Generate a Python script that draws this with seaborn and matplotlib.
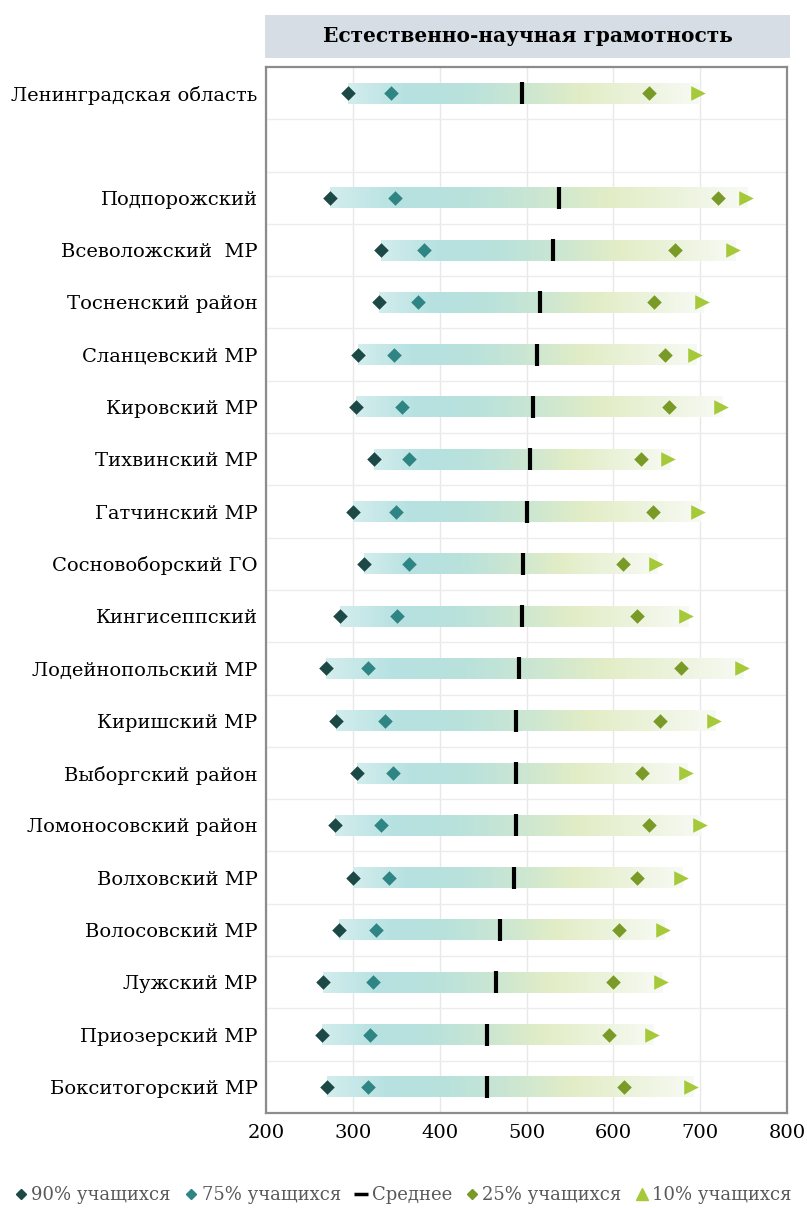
import numpy as np
import pandas as pd
import matplotlib.pyplot as plt
from matplotlib.colors import LinearSegmentedColormap
from matplotlib.lines import Line2D
import seaborn as sns

# Data
regions = ['Ленинградская область', '',
           'Подпорожский', 'Всеволожский  МР', 'Тосненский район', 'Сланцевский МР',
           'Кировский МР', 'Тихвинский МР', 'Гатчинский МР', 'Сосновоборский ГО',
           'Кингисеппский', 'Лодейнопольский МР', 'Киришский МР', 'Выборгский район',
           'Ломоносовский район', 'Волховский МР', 'Волосовский МР', 'Лужский МР',
           'Приозерский МР', 'Бокситогорский МР']
p90 = [295, None, 274, 332, 330, 306, 304, 324, 300, 313, 285, 269, 281, 305, 280, 300, 284, 266, 265, 270]
p75 = [344, None, 348, 382, 375, 347, 357, 365, 350, 365, 351, 318, 337, 346, 333, 342, 327, 323, 320, 317]
mean = [495, None, 538, 531, 516, 512, 508, 504, 501, 496, 495, 491, 488, 488, 488, 486, 470, 465, 455, 455]
p25 = [641, None, 721, 671, 647, 659, 664, 632, 646, 611, 627, 678, 654, 633, 641, 627, 607, 600, 595, 612]
p10 = [697, None, 753, 738, 702, 694, 724, 663, 698, 649, 684, 748, 716, 684, 700, 678, 657, 655, 645, 690]
title = 'Естественно-научная грамотность'

df = pd.DataFrame({'region': regions, 'p90': p90, 'p75': p75, 'mean': mean,
                   'p25': p25, 'p10': p10}).astype({'p90': float, 'p75': float, 'mean': float,
                                                     'p25': float, 'p10': float})
df['pos'] = np.arange(len(df))

sns.set_style('white')
plt.rcParams['font.family'] = ['DejaVu Serif', 'DejaVu Sans']

fig = plt.figure(figsize=(8.07, 12.08), dpi=100)
ax = fig.add_axes([266 / 807, 1 - 1113 / 1208, 521 / 807, (1113 - 67) / 1208])

# gradient bars from 90% to 10%
grad = LinearSegmentedColormap.from_list('g', ['#d3eded', '#b6e1e1', '#b9e2dc', '#cbe6d2',
                                               '#e2edc6', '#ecf3dc', '#f7faf4'])
gimg = np.linspace(0, 1, 256).reshape(1, -1)
bh = 0.2
for _, r in df.dropna().iterrows():
    ax.imshow(gimg, cmap=grad, aspect='auto', interpolation='bilinear',
              extent=[r['p90'], r['p10'] + 2, r['pos'] + bh, r['pos'] - bh], zorder=2)

d = df.dropna()
sns.scatterplot(x=d['p90'], y=d['pos'], marker='D', color='#1c4846', s=55,
                linewidth=0, ax=ax, zorder=4)
sns.scatterplot(x=d['p75'], y=d['pos'], marker='D', color='#2f8484', s=55,
                linewidth=0, ax=ax, zorder=4)
sns.scatterplot(x=d['mean'], y=d['pos'], marker='|', color='black', s=230,
                linewidth=3.0, ax=ax, zorder=5)
sns.scatterplot(x=d['p25'], y=d['pos'], marker='D', color='#7a9a28', s=55,
                linewidth=0, ax=ax, zorder=4)
sns.scatterplot(x=d['p10'], y=d['pos'], marker='>', color='#a6c93a', s=110,
                linewidth=0, ax=ax, zorder=4)

ax.set_xlim(200, 800)
ax.set_ylim(len(df) - 0.5, -0.5)
ax.set_xticks(range(200, 801, 100))
ax.set_yticks(df['pos'])
ax.set_yticklabels(df['region'], fontsize=14)
ax.set_yticks(np.arange(0.5, len(df) - 0.5, 1), minor=True)
ax.grid(axis='x', which='major', color='#e8e8e8', linewidth=1, zorder=0)
ax.grid(axis='y', which='minor', color='#ececec', linewidth=1, zorder=0)
ax.grid(axis='y', which='major', visible=False)
ax.tick_params(axis='x', labelsize=14, pad=8, length=0, colors='black')
ax.tick_params(axis='y', pad=6, length=0, colors='black')
ax.tick_params(which='minor', length=0)
ax.set_xlabel('')
ax.set_ylabel('')
for s in ax.spines.values():
    s.set_color('#8c8c8c')
    s.set_linewidth(1.6)
ax.set_axisbelow(True)

# title box
tax = fig.add_axes([265 / 807, 1 - 58 / 1208, 525 / 807, 43 / 1208])
tax.set_facecolor('#d7dde5')
tax.set_xticks([])
tax.set_yticks([])
for s in tax.spines.values():
    s.set_visible(False)
tax.text(0.5, 0.5, title, ha='center', va='center', fontsize=14.5, fontweight='bold',
         color='black', transform=tax.transAxes)

# legend
handles = [
    Line2D([], [], marker='D', color='#1c4846', linestyle='', markersize=5.5),
    Line2D([], [], marker='D', color='#2f8484', linestyle='', markersize=5.5),
    Line2D([], [], marker='_', color='black', linestyle='', markersize=10, markeredgewidth=2.5),
    Line2D([], [], marker='D', color='#7a9a28', linestyle='', markersize=5.5),
    Line2D([], [], marker='^', color='#a6c93a', linestyle='', markersize=8),
]
labels = ['90% учащихся', '75% учащихся', 'Среднее', '25% учащихся', '10% учащихся']
leg = fig.legend(handles, labels, loc='center', bbox_to_anchor=(0.5, 1 - 1195 / 1208),
                 ncol=5, frameon=False, fontsize=13, handlelength=0.6, handletextpad=0.3,
                 columnspacing=0.8)
for t in leg.get_texts():
    t.set_color('#595959')

fig.savefig('out.png', dpi=100)
